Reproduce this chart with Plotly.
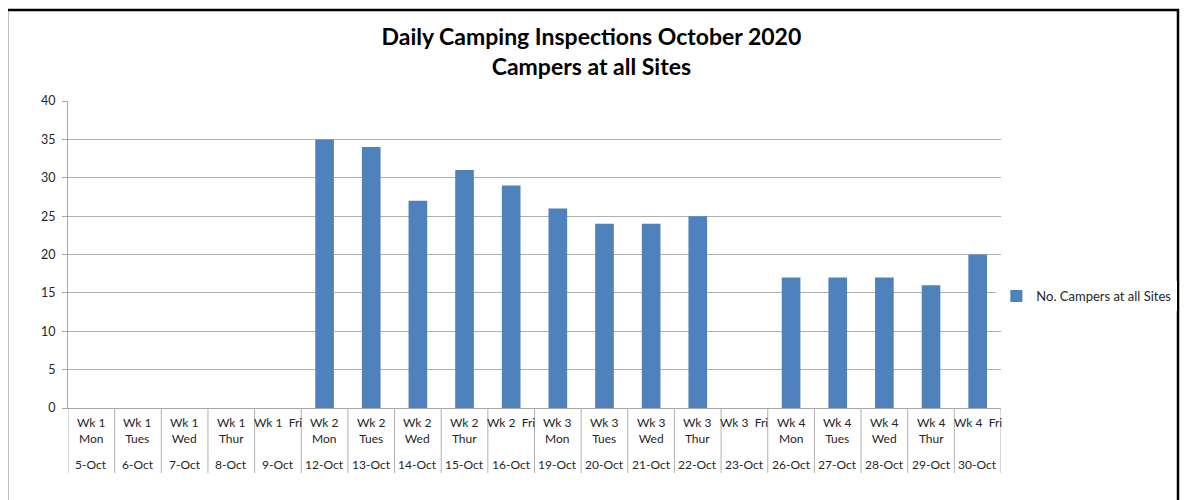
import plotly.graph_objects as go

weeks = ["Wk 1<br>Mon", "Wk 1<br>Tues", "Wk 1<br>Wed", "Wk 1<br>Thur", "Wk 1  Fri",
         "Wk 2<br>Mon", "Wk 2<br>Tues", "Wk 2<br>Wed", "Wk 2<br>Thur", "Wk 2  Fri",
         "Wk 3<br>Mon", "Wk 3<br>Tues", "Wk 3<br>Wed", "Wk 3<br>Thur", "Wk 3  Fri",
         "Wk 4<br>Mon", "Wk 4<br>Tues", "Wk 4<br>Wed", "Wk 4<br>Thur", "Wk 4  Fri"]
dates = ["5-Oct", "6-Oct", "7-Oct", "8-Oct", "9-Oct",
         "12-Oct", "13-Oct", "14-Oct", "15-Oct", "16-Oct",
         "19-Oct", "20-Oct", "21-Oct", "22-Oct", "23-Oct",
         "26-Oct", "27-Oct", "28-Oct", "29-Oct", "30-Oct"]
campers = [0, 0, 0, 0, 0, 35, 34, 27, 31, 29, 26, 24, 24, 25, 0, 17, 17, 17, 16, 20]
y_ticks = [0, 5, 10, 15, 20, 25, 30, 35, 40]

FONT = "Lato, Calibri, 'Open Sans', sans-serif"
idx = list(range(len(campers)))

fig = go.Figure()
fig.add_trace(go.Bar(
    x=idx, y=campers, name="No. Campers at all Sites",
    marker=dict(color="#4f81bd", line=dict(width=0)),
))

annotations = []
for i, (w, d) in enumerate(zip(weeks, dates)):
    annotations.append(dict(x=i, y=0, xref="x", yref="paper", text=w, showarrow=False,
                            yanchor="top", yshift=-5, font=dict(size=12, color="#262626"),
                            xanchor="center"))
    annotations.append(dict(x=i, y=0, xref="x", yref="paper", text=d, showarrow=False,
                            yanchor="top", yshift=-47, font=dict(size=12, color="#262626"),
                            xanchor="center"))

shapes = []
for i in range(len(campers) + 1):
    shapes.append(dict(type="line", xref="x", yref="paper", x0=i - 0.5, x1=i - 0.5,
                       ysizemode="pixel", yanchor=0, y0=0, y1=-65,
                       line=dict(color="#b0b0b0", width=1)))
# chart border
shapes.append(dict(type="rect", xref="paper", yref="paper",
                   xsizemode="pixel", ysizemode="pixel", xanchor=0, yanchor=1,
                   x0=-61, x1=1110, y0=91, y1=-420,
                   line=dict(color="black", width=2.5), fillcolor="rgba(0,0,0,0)"))

fig.update_layout(
    width=1181, height=492,
    margin=dict(l=60, r=188, t=93, b=92),
    paper_bgcolor="white", plot_bgcolor="white",
    font=dict(family=FONT, color="#262626"),
    title=dict(text="<b>Daily Camping Inspections October 2020<br>Campers at all Sites</b>",
               x=0.494, xref="container", xanchor="center", y=0.925, yref="container",
               yanchor="top",
               font=dict(size=23, color="black", family=FONT)),
    bargap=0.6,
    showlegend=True,
    legend=dict(x=0.995, y=0.365, xanchor="left", yanchor="middle",
                font=dict(size=13, color="#262626"), itemwidth=30),
    xaxis=dict(range=[-0.5, len(campers) - 0.5], tickvals=idx, ticktext=[""] * len(idx),
               showgrid=False, showline=True, linecolor="#a6a6a6", ticks="", zeroline=False),
    yaxis=dict(range=[0, 40], tickvals=y_ticks, showgrid=True, gridcolor="#b0b0b0",
               showline=True, linecolor="#a6a6a6", ticks="outside", ticklen=5,
               tickcolor="#a6a6a6", zeroline=False, ticklabelstandoff=4,
               tickfont=dict(size=12.5, color="#262626")),
    annotations=annotations,
    shapes=shapes,
)

fig.write_html("out.html")
